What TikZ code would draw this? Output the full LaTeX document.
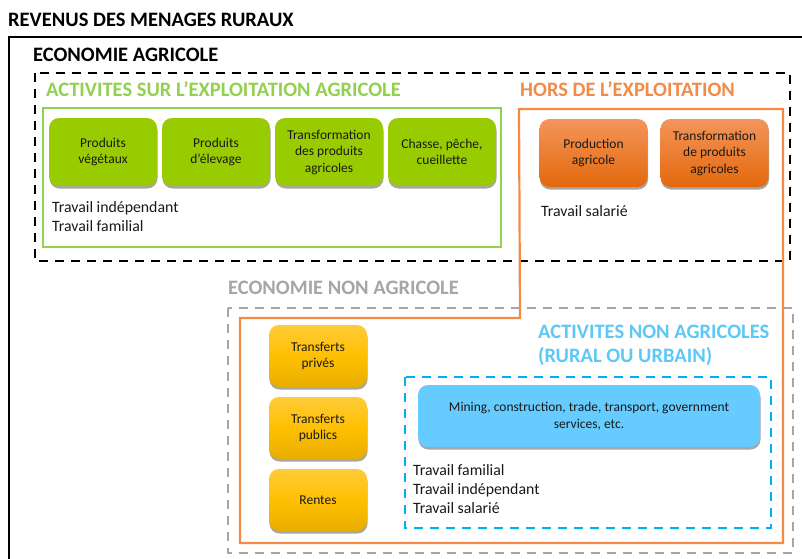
\documentclass[tikz,border=0pt]{standalone}
\usepackage{fontspec}
\setmainfont{Carlito}
\usetikzlibrary{shadows}
\definecolor{grnT}{HTML}{92D050}
\definecolor{grnF}{HTML}{99CC00}
\definecolor{orT}{HTML}{F38B47}
\definecolor{orTop}{HTML}{F3955A}
\definecolor{orBot}{HTML}{E4680C}
\definecolor{yeTop}{HTML}{FFCB3A}
\definecolor{yeMid}{HTML}{FFC000}
\definecolor{yeBot}{HTML}{E8AE00}
\definecolor{blT}{HTML}{5CC8F7}
\definecolor{blF}{HTML}{66CCFF}
\definecolor{blD}{HTML}{00B0F0}
\definecolor{grT}{HTML}{A6A6A6}
\tikzset{
  heading/.style={anchor=west, font=\bfseries\fontsize{20.5}{24}\selectfont, inner sep=0pt},
  plain/.style={anchor=west, font=\fontsize{15.8}{18.5}\selectfont, inner sep=0pt, align=left, text=black!90},
  boxbase/.style={rounded corners=10pt, align=center, font=\fontsize{13.5}{16.5}\selectfont, text=black!90,
     drop shadow={shadow xshift=0.5pt, shadow yshift=-2.5pt, fill=black, opacity=0.35}},
  greenbox/.style={boxbase, fill=grnF, minimum width=108pt, minimum height=68pt},
  orangebox/.style={boxbase, top color=orTop, bottom color=orBot, minimum width=108pt, minimum height=68pt},
  yellowbox/.style={boxbase, top color=yeTop, bottom color=yeBot, middle color=yeMid, minimum width=98pt, minimum height=62pt},
  bluebox/.style={boxbase, fill=blF, minimum width=342pt, minimum height=62pt},
  blackdash/.style={draw=black, line width=2.6pt, dash pattern=on 9pt off 7pt},
  graydash/.style={draw=grT, line width=2.6pt, dash pattern=on 9pt off 7pt},
  bluedash/.style={draw=blD, line width=2.6pt, dash pattern=on 9pt off 7pt},
}
\begin{document}
\begin{tikzpicture}[x=1pt,y=-1pt]
\useasboundingbox (0,0) rectangle (802,558);
\fill[white] (0,0) rectangle (802,558);
% outer frame
\draw[line width=2.8pt] (803,37) -- (9,37) -- (9,560);
\node[heading] (title) at (8,20) {REVENUS DES MENAGES RURAUX};
\node[heading] (ecoagr) at (33,55) {ECONOMIE AGRICOLE};
% black dashed
\draw[blackdash] (35,73) rectangle (790,261);
\node[heading, text=grnT] (surexp) at (46,89) {ACTIVITES SUR L’EXPLOITATION AGRICOLE};
\draw[draw=grnT, line width=2pt] (43,108) rectangle (501,247);
\node[greenbox] (g1) at (103,152) {Produits\\végétaux};
\node[greenbox] (g2) at (216,152) {Produits\\d’élevage};
\node[greenbox] (g3) at (329,152) {Transformation\\des produits\\agricoles};
\node[greenbox] (g4) at (442,152) {Chasse, pêche,\\cueillette};
\node[plain] (t1) at (52,208) {Travail indépendant};
\node[plain] (t2) at (52,226) {Travail familial};
% hors exploitation
\node[heading, text=orT] (hors) at (520,89) {HORS DE L’EXPLOITATION};
% gray dashed
\node[heading, text=grT] (econ) at (228,288) {ECONOMIE NON AGRICOLE};
\draw[graydash] (228,308) rectangle (793,553);
% orange frame
\draw[draw=orT, line width=2.2pt] (519,109) -- (783,109) -- (783,543) -- (240,543) -- (240,318) -- (520,318) -- cycle;
\node[orangebox] (o1) at (593.5,153) {Production\\agricole};
\node[orangebox] (o2) at (714.5,153) {Transformation\\de produits\\agricoles};
\node[plain] (t3) at (541,211) {Travail salarié};
% yellow
\node[yellowbox] (y1) at (318,356) {Transferts\\privés};
\node[yellowbox] (y2) at (318,428) {Transferts\\publics};
\node[yellowbox] (y3) at (318,500) {Rentes};
% non agricole
\node[heading, text=blT, align=left, font=\bfseries\fontsize{20.5}{24}\selectfont] (nonagr) at (538,345) {ACTIVITES NON AGRICOLES\\(RURAL OU URBAIN)};
\draw[bluedash] (405,377) rectangle (771,528);
\node[bluebox] (b1) at (589,416) {Mining, construction, trade, transport, government\\services, etc.};
\node[plain, font=\fontsize{15.8}{19}\selectfont] (t4) at (413,489) {Travail familial\\Travail indépendant\\Travail salarié};
\end{tikzpicture}
\end{document}
